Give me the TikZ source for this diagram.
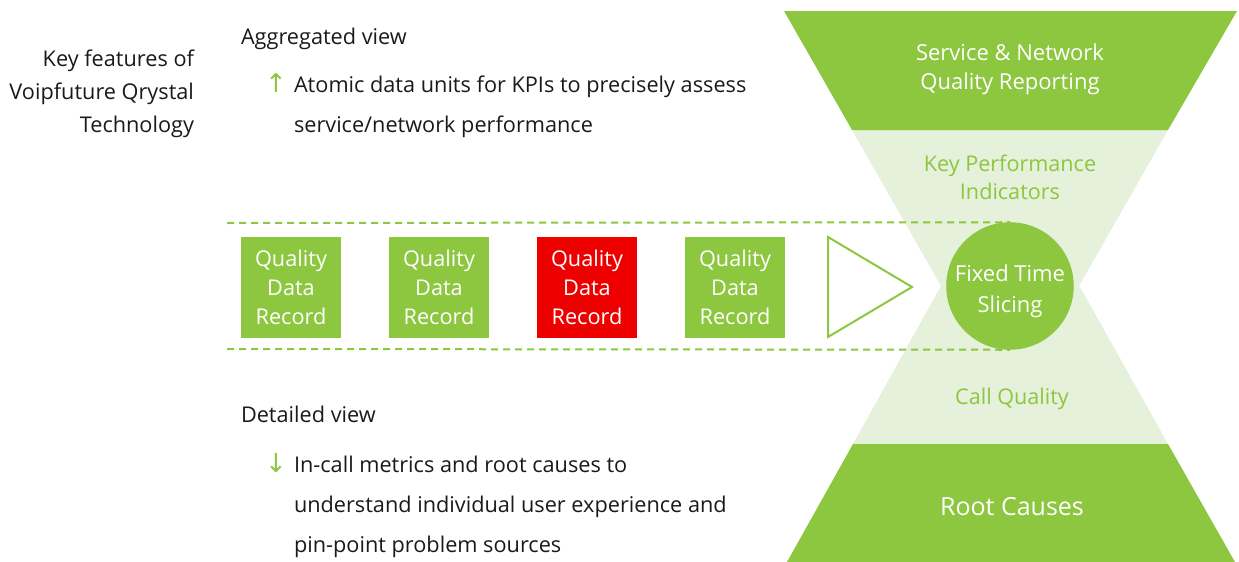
\documentclass[tikz,border=0pt]{standalone}
\usepackage{fontspec}
\setmainfont{Open Sans}
\newfontfamily\arrowfont{DejaVu Sans}
\usetikzlibrary{positioning,backgrounds}
\definecolor{qgreen}{RGB}{141,198,63}
\definecolor{qlight}{RGB}{229,241,218}
\definecolor{qred}{RGB}{238,0,0}
\definecolor{qtext}{RGB}{26,26,26}

\begin{document}
\begin{tikzpicture}[x=0.5pt, y=-0.5pt,
    every node/.append style={inner sep=0pt, outer sep=0pt, text=qtext, font=\fontsize{10.85}{14.5}\selectfont},
    record/.style={fill=qgreen, minimum width=50pt, minimum height=50.5pt, align=center, text=white},
    bandtext/.style={align=center, text=white, font=\fontsize{11}{14.5}\selectfont},
    lighttext/.style={align=center, text=qgreen, font=\fontsize{10.8}{14}\selectfont},
    dashline/.style={qgreen, line width=1pt, dash pattern=on 3.5pt off 2.5pt},
    updown/.style={text=qgreen, font=\arrowfont\fontsize{13}{13}\selectfont}]
  \useasboundingbox (0,0) rectangle (1239,562);

  \node[circle, fill=qgreen, minimum size=63pt, align=center, text=white,
        font=\fontsize{11}{15.5}\selectfont] (slicing) at (1010,286) {\rule{0pt}{14pt}Fixed Time\\Slicing};

  % hourglass and the slice borders behind the circle
  \begin{pgfonlayer}{background}
    \fill[qlight] (852,130) -- (1168,130) -- (1010,407) -- cycle;
    \fill[qlight] (1010,162) -- (1168,444) -- (853,444) -- cycle;
    \fill[qgreen] (784,11) -- (1237,11) -- (1168,130) -- (852,130) -- cycle;
    \fill[qgreen] (853,444) -- (1168,444) -- (1235,562) -- (787,562) -- cycle;
    \coordinate (dashtop) at (227,223);
    \coordinate (dashbot) at (227,349);
    \draw[dashline] (dashtop) -- (slicing.north);
    \draw[dashline] (dashbot) -- (slicing.south);
  \end{pgfonlayer}

  \node[bandtext] (reporting) at (1010,69) {Service \& Network\\Quality Reporting};
  \node[lighttext] (kpi) at (1010,177) {Key Performance\\Indicators};
  \node[lighttext] (callquality) at (1012,399) {Call Quality};
  \node[bandtext, font=\fontsize{12.5}{15}\selectfont] (rootcauses) at (1012,507) {Root Causes};

  \node[record] (qdr1) at (291,287.5) {Quality\\Data\\Record};
  \node[record, right=24pt of qdr1] (qdr2) {Quality\\Data\\Record};
  \node[record, right=24pt of qdr2, fill=qred] (qdr3) {Quality\\Data\\Record};
  \node[record, right=24pt of qdr3] (qdr4) {Quality\\Data\\Record};
  \draw[qgreen, line width=1pt] (828,237) -- (828,337) -- (912,287) -- cycle;

  % left hand texts
  \node[anchor=base east] (key1) at (194,66) {Key features of};
  \node[anchor=base east] (key2) at (194,99) {Voipfuture Qrystal};
  \node[anchor=base east] (key3) at (194,132) {Technology};

  \node[anchor=base west] (aggregated) at (241,45) {Aggregated view};
  \node[updown, anchor=base west] (uparrow) at (265,92) {↑};
  \node[anchor=base west] (atomic1) at (294,92) {Atomic data units for KPIs to precisely assess};
  \node[anchor=base west] (atomic2) at (294,132) {service/network performance};

  \node[anchor=base west] (detailed) at (241,422) {Detailed view};
  \node[updown, anchor=base west] (downarrow) at (265,472) {↓};
  \node[anchor=base west] (incall1) at (294,472) {In-call metrics and root causes to};
  \node[anchor=base west] (incall2) at (294,512) {understand individual user experience and};
  \node[anchor=base west] (incall3) at (294,552) {pin-point problem sources};
\end{tikzpicture}
\end{document}
